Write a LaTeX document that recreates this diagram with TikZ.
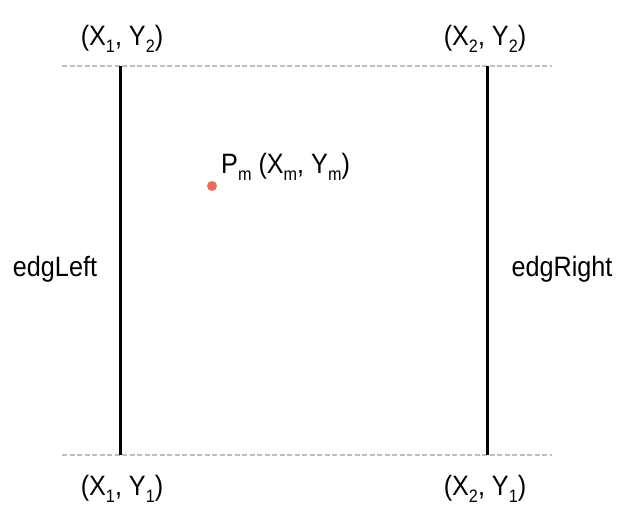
\documentclass[tikz,border=0pt]{standalone}
\usepackage{fontspec}
\setmainfont[FakeStretch=0.9]{Liberation Sans}
\usepackage{tikz}
\usetikzlibrary{positioning,calc}
\definecolor{gridgray}{RGB}{190,190,190}
\definecolor{pointred}{RGB}{238,108,88}
\newcommand{\lowidx}[1]{\raisebox{-7pt}{\fontsize{18}{19}\selectfont #1}}

\begin{document}
\begin{tikzpicture}[x=1pt, y=-1pt, corner/.style={inner sep=0pt, anchor=base, font=\fontsize{28}{30}\selectfont}, edgelabel/.style={inner sep=0pt, anchor=base, font=\fontsize{28}{30}\selectfont}, guide/.style={draw=gridgray, dash pattern=on 5pt off 2.5pt, line width=2.2pt}, edgeline/.style={draw=black, line width=3pt}]
\useasboundingbox (0,0) rectangle (617,506);
% corners of the strip
\coordinate (c12) at (120,66);
\coordinate (c22) at (487,66);
\coordinate (c11) at (120,455);
\coordinate (c21) at (487,455);
\coordinate (gl) at (62,66);
\coordinate (gr) at (552,66);
\coordinate (bl) at (62,455);
\coordinate (br) at (552,455);
\draw[guide] (gl) -- (gr);
\draw[guide] (bl) -- (br);
\draw[edgeline] (c12) -- (c11);
\draw[edgeline] (c22) -- (c21);
\node[corner] (t12) at (122,45) {(X\lowidx{1}, Y\lowidx{2})};
\node[corner] (t22) at (485,45) {(X\lowidx{2}, Y\lowidx{2})};
\node[corner] (t11) at (122,495) {(X\lowidx{1}, Y\lowidx{1})};
\node[corner] (t21) at (485,495) {(X\lowidx{2}, Y\lowidx{1})};
\node[edgelabel] (el) at (55,276) {edgLeft};
\node[edgelabel] (er) at (562,276) {edgRight};
% point
\node[circle, fill=pointred, inner sep=0pt, minimum size=10pt] (pm) at (212,186) {};
\node[corner, anchor=base west] (pml) at (221,173) {P\lowidx{m} (X\lowidx{m}, Y\lowidx{m})};
\end{tikzpicture}
\end{document}
